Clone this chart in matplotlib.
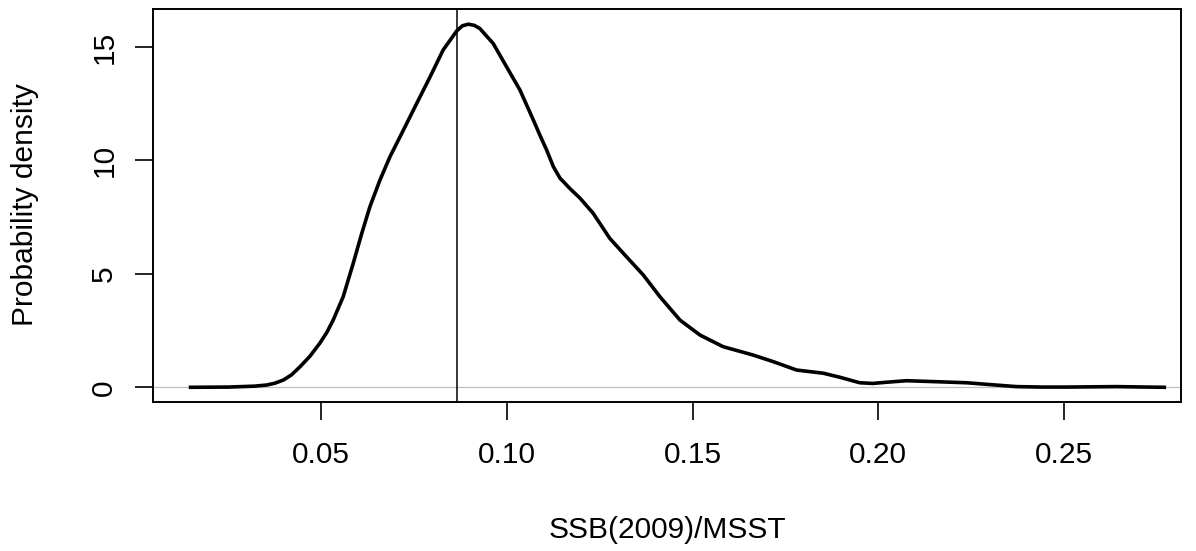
import matplotlib
matplotlib.use("Agg")
import matplotlib.pyplot as plt

# Density curve
ratio = [0.0148, 0.0250, 0.0320, 0.0353, 0.0375, 0.0398, 0.0420, 0.0443, 0.0470,
         0.0496, 0.0515, 0.0532, 0.0559, 0.0586, 0.0609, 0.0631, 0.0658, 0.0685,
         0.0721, 0.0757, 0.0793, 0.0828, 0.0865, 0.0880, 0.0896, 0.0912, 0.0927,
         0.0963, 0.0999, 0.1035, 0.1071, 0.1089, 0.1107, 0.1125, 0.1143, 0.1152,
         0.1170, 0.1197, 0.1232, 0.1277, 0.1322, 0.1367, 0.1412, 0.1466, 0.1520,
         0.1582, 0.1663, 0.1717, 0.1780, 0.1852, 0.1897, 0.1950, 0.1985, 0.2020,
         0.2076, 0.2150, 0.2238, 0.2300, 0.2372, 0.2440, 0.2506, 0.2640, 0.2770]
density = [0.00, 0.01, 0.05, 0.10, 0.18, 0.32, 0.55, 0.91, 1.38,
           1.94, 2.42, 2.96, 3.99, 5.46, 6.78, 7.96, 9.13, 10.16,
           11.33, 12.51, 13.68, 14.86, 15.71, 15.93, 16.00, 15.95, 15.81,
           15.15, 14.12, 13.10, 11.78, 11.10, 10.45, 9.72, 9.21, 9.06,
           8.75, 8.33, 7.67, 6.56, 5.75, 4.95, 3.99, 2.96, 2.30,
           1.79, 1.42, 1.13, 0.76, 0.62, 0.44, 0.20, 0.17, 0.22,
           0.29, 0.25, 0.20, 0.12, 0.03, 0.01, 0.01, 0.03, 0.00]
ref_value = 0.0865

xticks = [0.05, 0.10, 0.15, 0.20, 0.25]
xtick_labels = ["0.05", "0.10", "0.15", "0.20", "0.25"]
yticks = [0, 5, 10, 15]
ytick_labels = ["0", "5", "10", "15"]

plt.rcParams['font.family'] = ['Liberation Sans', 'DejaVu Sans']

W, H = 1196, 551
fig = plt.figure(figsize=(W / 100, H / 100), dpi=100)
left, right, top, bottom = 153, 1181, 9, 402
ax = fig.add_axes([left / W, (H - bottom) / H, (right - left) / W, (bottom - top) / H])

ax.axhline(0, color="#bebebe", lw=0.9, zorder=1)
ax.plot(ratio, density, color="black", lw=2.6, solid_joinstyle="round", zorder=3)
ax.axvline(ref_value, color="black", lw=1.1, zorder=2)

ax.set_xlim(0.00469, 0.2815)
ax.set_ylim(-0.648, 16.67)

ax.set_xticks(xticks)
ax.set_xticklabels(xtick_labels)
ax.set_yticks(yticks)
ax.set_yticklabels(ytick_labels, rotation=90, va="center")

for s in ax.spines.values():
    s.set_linewidth(1.4)
ax.tick_params(axis="both", direction="out", length=13, width=1.2, labelsize=21.5, pad=15)
ax.tick_params(axis="y", pad=12)

fig.text(667 / W, 1 - 530 / H, "SSB(2009)/MSST", ha="center", va="center", fontsize=21.5)
fig.text(25 / W, 1 - 205 / H, "Probability density", ha="center", va="center",
         rotation=90, fontsize=21.5)

fig.savefig("out.png", dpi=100)
